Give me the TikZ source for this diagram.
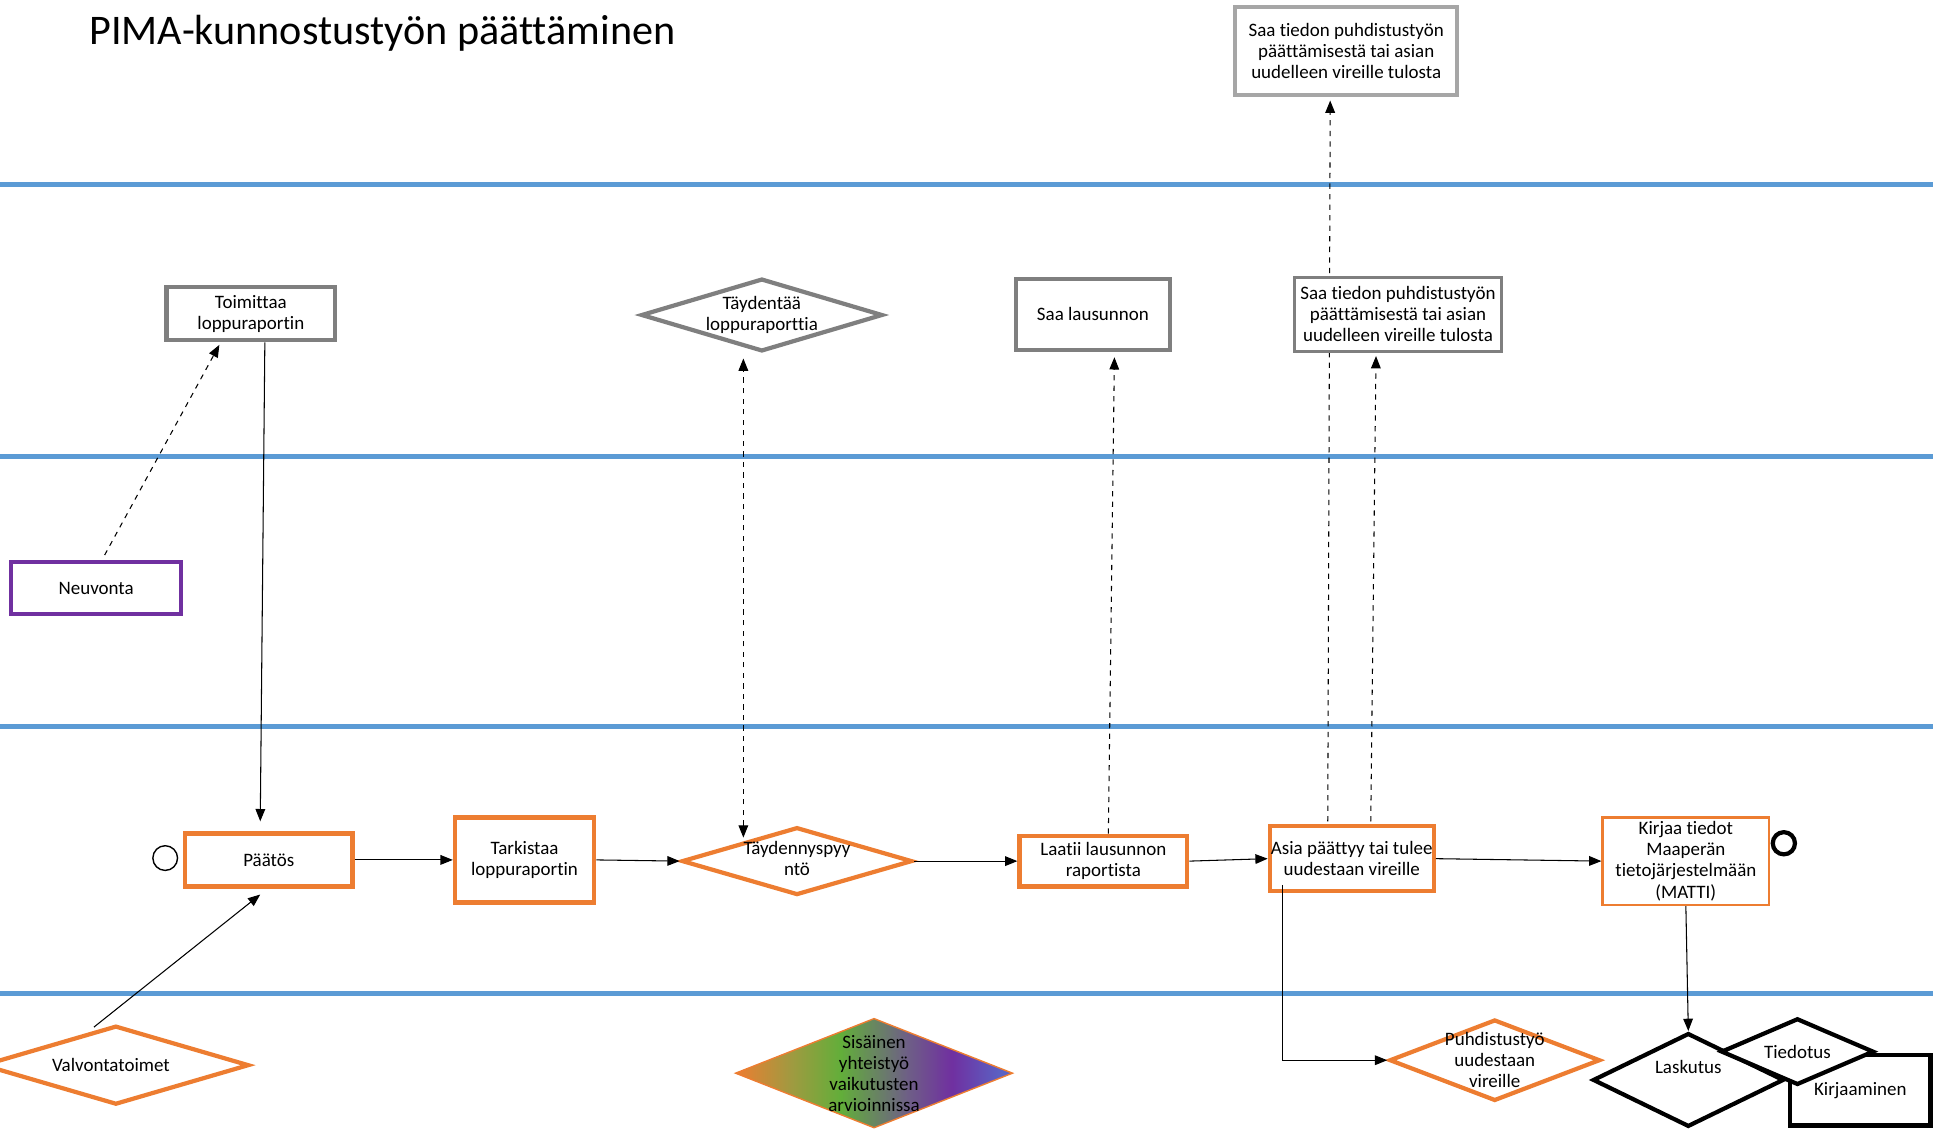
\documentclass[tikz,border=0pt]{standalone}
\usepackage{fontspec}
\setmainfont[Ligatures=NoCommon]{Carlito}
\usetikzlibrary{calc,shapes.geometric,arrows.meta}
\definecolor{kaista}{HTML}{5B9BD5}
\definecolor{oranssi}{HTML}{ED7D31}
\definecolor{harmaa}{HTML}{7F7F7F}
\definecolor{vaalea}{HTML}{A6A6A6}
\definecolor{violetti}{HTML}{7030A0}
\definecolor{oliivi}{HTML}{A09A40}
\definecolor{vihrea}{HTML}{62AE3A}
\definecolor{harmaavioletti}{HTML}{6E5F86}
\definecolor{sinivioletti}{HTML}{5A62C4}
\pgfdeclarehorizontalshading{sisainen}{100bp}{color(0bp)=(oranssi); color(25bp)=(oranssi); color(35bp)=(oliivi); color(44bp)=(vihrea); color(56bp)=(harmaavioletti); color(64bp)=(violetti); color(73bp)=(sinivioletti); color(100bp)=(sinivioletti)}
\tikzstyle{laatikko} = [rectangle, draw=oranssi, line width=2.4pt, fill=white, align=center, inner sep=0pt]
\tikzstyle{salmiakki} = [diamond, draw=oranssi, line width=2.4pt, fill=white, inner sep=0pt]
\tikzstyle{kaistaviiva} = [draw=kaista, line width=2.8pt]

\begin{document}
\begin{tikzpicture}[font=\fontsize{10.8}{12}\selectfont, >={Triangle[length=7pt,width=5.5pt]}, line width=0.6pt]

        \useasboundingbox (0,0) rectangle (38.66,-22.56);

        %% lanes
        \foreach \y in {3.698,9.123,14.522,19.873}
            \draw[kaistaviiva] (0,-\y) -- (38.66,-\y);

        \node (otsikko) [anchor=west, font=\fontsize{24}{29}\selectfont] at (1.66,-0.666) {PIMA-kunnostustyön päättäminen};

        %% top
        \node (tieto1) [laatikko, draw=vaalea, minimum width=4.438cm, minimum height=1.751cm] at (26.924,-1.023) {Saa tiedon puhdistustyön\\päättämisestä tai asian\\uudelleen vireille tulosta};

        %% lane 2
        \node (toimittaa) [laatikko, draw=harmaa, minimum width=3.378cm, minimum height=1.060cm] at (5.017,-6.275) {Toimittaa\\loppuraportin};
        \node (taydentaa) [salmiakki, draw=harmaa, minimum width=4.833cm, minimum height=1.455cm, label={[align=center]center:Täydentää\\loppuraporttia}] at (15.237,-6.300) {};
        \node (lausunto) [laatikko, draw=harmaa, minimum width=3.082cm, minimum height=1.430cm] at (21.858,-6.287) {Saa lausunnon};

        %% lane 3
        \node (neuvonta) [laatikko, draw=violetti, minimum width=3.403cm, minimum height=1.036cm] at (1.923,-11.761) {Neuvonta};

        %% lane 4
        \node (alku) [circle, draw, line width=0.8pt, minimum size=0.494cm, inner sep=0pt] at (3.304,-17.161) {};
        \node (paatos) [laatikko, minimum width=3.353cm, minimum height=1.060cm] at (5.375,-17.198) {Päätös};
        \node (tarkistaa) [laatikko, minimum width=2.786cm, minimum height=1.701cm] at (10.491,-17.198) {Tarkistaa\\loppuraportin};
        \node (pyynto) [salmiakki, minimum width=4.611cm, minimum height=1.356cm, label={[align=center, yshift=0.05cm]center:Täydennyspyy\\ntö}] at (15.940,-17.222) {};
        \node (laatii) [laatikko, minimum width=3.353cm, minimum height=1.011cm] at (22.067,-17.222) {Laatii lausunnon\\raportista};
        \node (asia) [laatikko, minimum width=3.279cm, minimum height=1.307cm] at (27.035,-17.173) {Asia päättyy tai tulee\\uudestaan vireille};
        \node (kirjaa) [laatikko, line width=1.4pt, minimum width=3.329cm, minimum height=1.751cm] at (33.717,-17.222) {Kirjaa tiedot\\Maaperän\\tietojärjestelmään\\(MATTI)};
        \node (loppu) [circle, draw, line width=2.4pt, minimum size=0.444cm, inner sep=0pt] at (35.677,-16.865) {};

        %% lane 5
        \node (valvonta) [salmiakki, minimum width=5.326cm, minimum height=1.578cm, label={[xshift=-0.1cm]center:Valvontatoimet}] at (2.318,-21.303) {};
        \node (sisainen) [diamond, draw=oranssi, line width=0.8pt, shade, shading=sisainen, inner sep=0pt, minimum width=5.548cm, minimum height=2.194cm, label={[align=center]center:Sisäinen\\yhteistyö\\vaikutusten\\arvioinnissa}] at (17.481,-21.463) {};
        \node (puhdistus) [salmiakki, minimum width=4.216cm, minimum height=1.627cm, label={[align=center]center:Puhdistustyö\\uudestaan\\vireille}] at (29.895,-21.204) {};
        \node (laskutus) [salmiakki, draw=black, minimum width=3.822cm, minimum height=1.874cm, label={[yshift=0.25cm]center:Laskutus}] at (33.766,-21.599) {};
        \node (kirjaaminen) [laatikko, draw=black, minimum width=2.811cm, minimum height=1.405cm] at (37.206,-21.808) {Kirjaaminen};
        \node (tiedotus) [salmiakki, draw=black, minimum width=3.057cm, minimum height=1.331cm, label=center:Tiedotus] at (35.948,-21.032) {};

        %% passes behind the lane 2 box
        \draw[->, dashed] ($(asia.north)+(-0.48,0.05)$) -- ($(tieto1.south)+(-0.32,-0.07)$);

        \node (tieto2) [laatikko, draw=harmaa, line width=1.4pt, minimum width=4.142cm, minimum height=1.479cm] at (27.960,-6.287) {Saa tiedon puhdistustyön\\päättämisestä tai asian\\uudelleen vireille tulosta};

        %% relations
        \draw[->] ($(toimittaa.south)+(0.28,0)$) -- ($(paatos.north)+(-0.17,0.2)$);
        \draw[->, dashed] ($(neuvonta.north)+(0.17,0.1)$) -- ($(toimittaa.south)+(-0.63,-0.05)$);
        \draw[->] ($(valvonta.north)+(-0.44,-0.07)$) -- ($(paatos.south)+(-0.17,-0.12)$);

        \draw[->] (paatos.east) -- (tarkistaa.west);
        \draw[->] (tarkistaa.east) -- (pyynto.west);
        \draw[->] (pyynto.east) -- (laatii.west);
        \draw[->] (laatii.east) -- (asia.west);
        \draw[->] (asia.east) -- (kirjaa.west);

        \draw[<->, dashed] ($(pyynto.north)+(-1.073,-0.25)$) -- ($(taydentaa.south)+(-0.37,-0.1)$);
        \draw[->, dashed] ($(laatii.north)+(0.1,0)$) -- ($(lausunto.south)+(0.43,-0.1)$);
        \draw[->, dashed] ($(asia.north)+(0.38,0.05)$) -- ($(tieto2.south)+(-0.44,-0.07)$);
        \draw[->] ($(asia.south)+(-1.393,0.17)$) |- (puhdistus.west);
        \draw[->] (kirjaa.south) -- (laskutus.north);

    \end{tikzpicture}
\end{document}
